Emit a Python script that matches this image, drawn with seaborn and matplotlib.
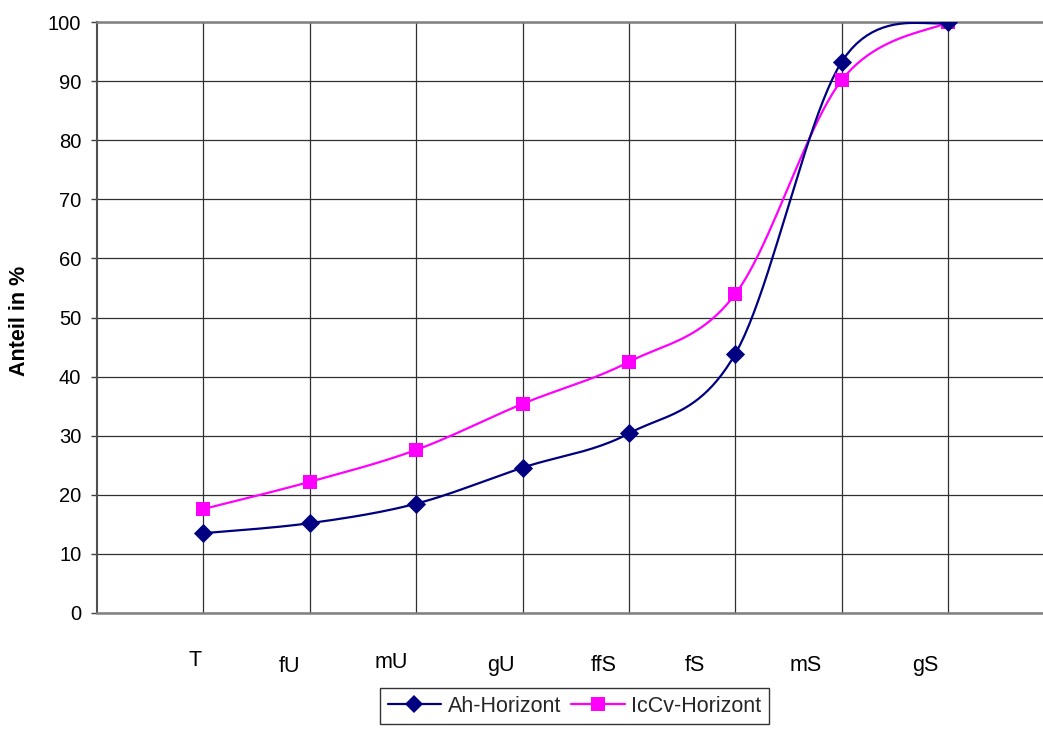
import numpy as np
import matplotlib
matplotlib.use("Agg")
import matplotlib.pyplot as plt
from matplotlib.lines import Line2D
import seaborn as sns

# Grain-size classes and cumulative share (%) per horizon
categories = ["T", "fU", "mU", "gU", "ffS", "fS", "mS", "gS"]
ah_horizont = [13.5, 15.2, 18.5, 24.6, 30.4, 43.9, 93.3, 100.0]
iccv_horizont = [17.6, 22.2, 27.6, 35.4, 42.5, 54.0, 90.2, 100.0]
y_ticks = list(range(0, 101, 10))

# Where the class names sit under the axis (x in data units, baseline in px below axis)
label_x = [0.925, 1.808, 2.766, 3.80, 4.758, 5.623, 6.656, 7.784]
label_drop = [53, 59, 55, 58, 58, 58, 58, 58]

sns.set_theme(style="white")
plt.rcParams["font.family"] = ["Liberation Sans", "DejaVu Sans"]

W, H = 1043, 729
fig = plt.figure(figsize=(W / 100, H / 100), dpi=100)
ax = fig.add_axes([97 / W, 1 - 613 / H, (W - 97) / W, (613 - 22) / H])

NAVY = "#000080"
MAGENTA = "#FF00FF"


def smooth_curve(xs, ys, n=24):
    """Bezier smoothing through every point (Catmull-Rom control points)."""
    pts = np.column_stack([xs, ys]).astype(float)
    ext = np.vstack([pts[0], pts, pts[-1]])
    out = []
    t = np.linspace(0, 1, n)[:, None]
    for i in range(len(pts) - 1):
        p0, p1, p2, p3 = ext[i], ext[i + 1], ext[i + 2], ext[i + 3]
        c1 = p1 + (p2 - p0) / 6.0
        c2 = p2 - (p3 - p1) / 6.0
        seg = ((1 - t) ** 3) * p1 + 3 * ((1 - t) ** 2) * t * c1 \
            + 3 * (1 - t) * (t ** 2) * c2 + (t ** 3) * p2
        out.append(seg if i == 0 else seg[1:])
    return np.vstack(out)


xpos = np.arange(1, len(categories) + 1)

for vals, color, marker, size in [
    (iccv_horizont, MAGENTA, "s", 110),
    (ah_horizont, NAVY, "D", 95),
]:
    curve = smooth_curve(xpos, vals)
    sns.lineplot(x=curve[:, 0], y=curve[:, 1], ax=ax, color=color,
                 linewidth=1.6, sort=False, estimator=None, zorder=3)
    sns.scatterplot(x=xpos, y=vals, ax=ax, color=color, marker=marker,
                    s=size, linewidth=0, zorder=4)

ax.set_xlim(0, 8.89)
ax.set_ylim(0, 100)
ax.set_yticks(y_ticks)
ax.set_yticklabels([str(v) for v in y_ticks], fontsize=14.5, color="black")
ax.set_xticks(xpos)
ax.set_xticklabels([])
ax.tick_params(axis="x", length=0)
ax.tick_params(axis="y", direction="out", length=4.3, width=1.0,
               color="#404040", pad=7, left=True)

ax.grid(True, color="#303030", linewidth=0.9)
ax.set_axisbelow(True)
for side in ["top", "bottom"]:
    ax.spines[side].set_color("#808080")
    ax.spines[side].set_linewidth(1.8)
ax.spines["left"].set_color("#505050")
ax.spines["left"].set_linewidth(1.5)
ax.spines["right"].set_visible(False)

ax.set_ylabel("Anteil in %", fontsize=15.5, fontweight="bold", color="black")
ax.yaxis.set_label_coords((20 - 97) / (W - 97), (613 - 321) / (613 - 22))
ax.yaxis.label.set_verticalalignment("center")

# Class names below the axis
trans = matplotlib.transforms.blended_transform_factory(
    ax.transData, matplotlib.transforms.IdentityTransform())
for name, lx, drop in zip(categories, label_x, label_drop):
    ax.text(lx, H - 613 - drop, name, transform=trans, ha="center",
            va="baseline", fontsize=15.5, color="black", clip_on=False)

handles = [
    Line2D([], [], color=NAVY, linewidth=1.6, marker="D", markersize=9.5,
           markeredgewidth=0),
    Line2D([], [], color=MAGENTA, linewidth=1.6, marker="s", markersize=10.5,
           markeredgewidth=0),
]
leg = fig.legend(handles, ["Ah-Horizont", "IcCv-Horizont"], ncol=2,
                 loc="upper left", bbox_to_anchor=(380 / W, 1 - 688 / H),
                 frameon=True, fancybox=False, fontsize=15.5,
                 handlelength=2.5, handletextpad=0.3, columnspacing=0.45,
                 borderpad=0.35, borderaxespad=0)
leg.get_frame().set_edgecolor("black")
leg.get_frame().set_linewidth(1.0)

fig.savefig("out.png", dpi=100)
